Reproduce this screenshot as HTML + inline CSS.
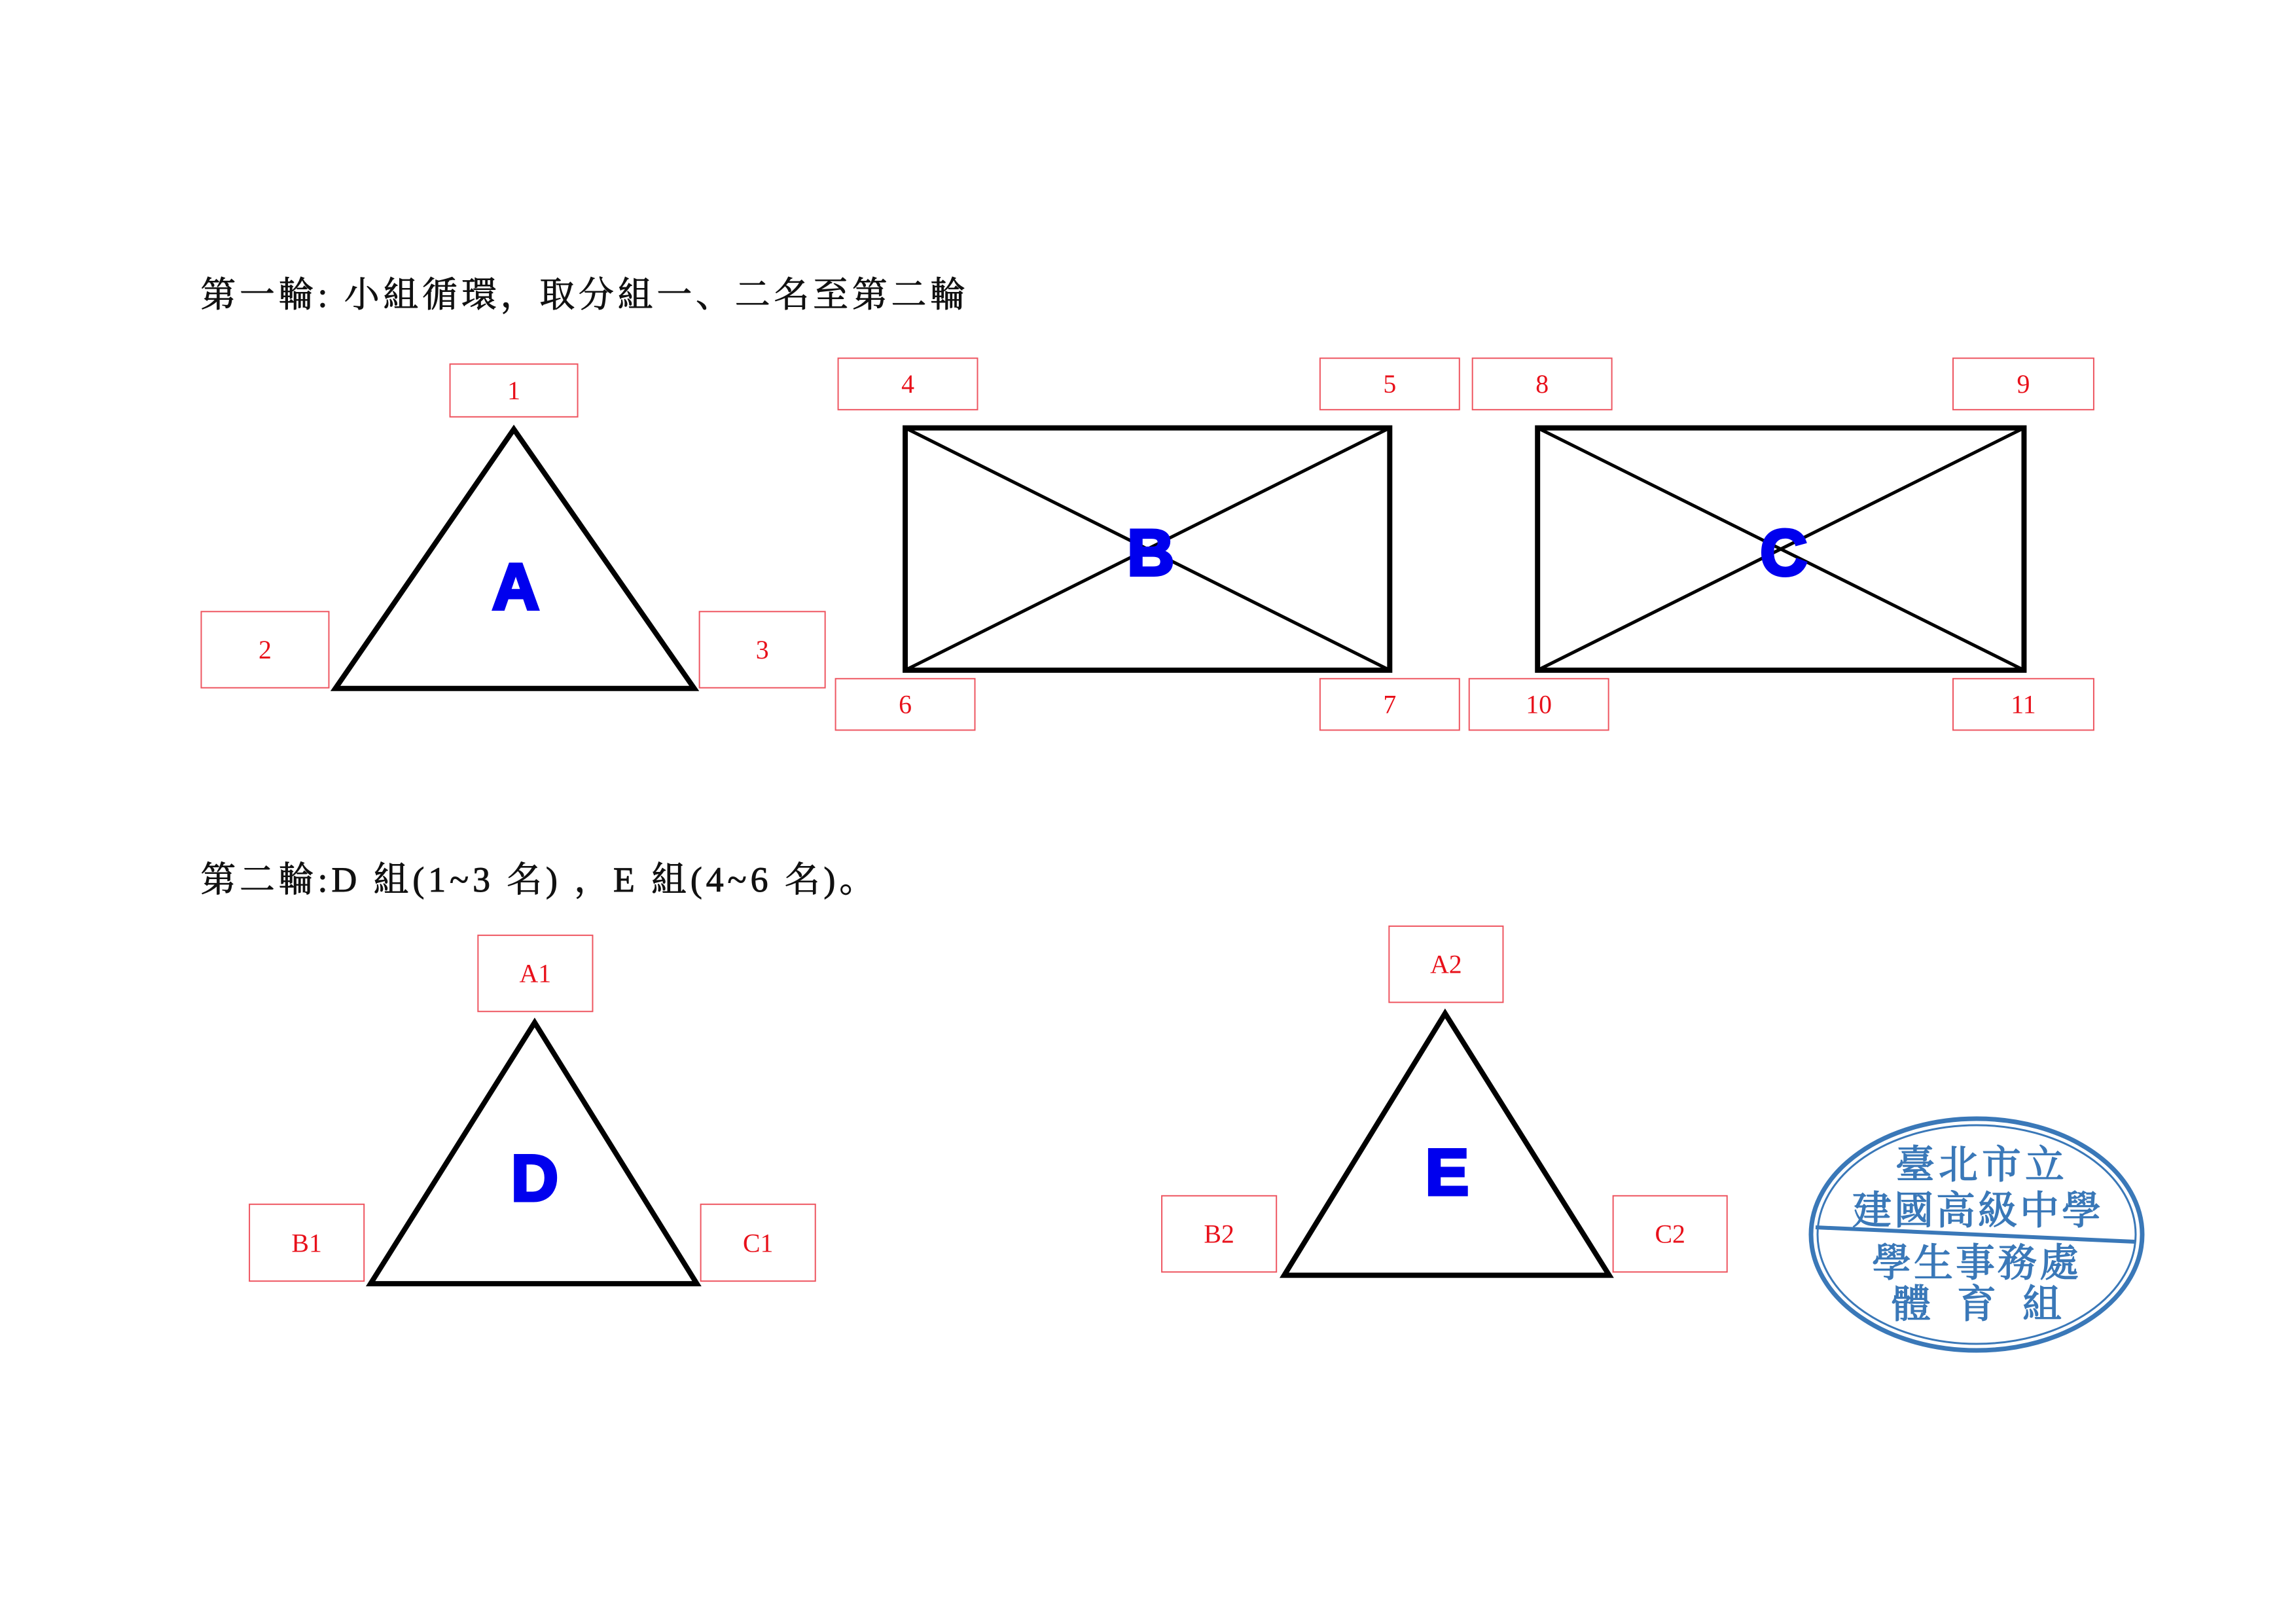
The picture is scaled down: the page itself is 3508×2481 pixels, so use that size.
<!DOCTYPE html>
<html><head><meta charset="utf-8">
<style>
body{margin:0;background:#fff;}
#c{position:relative;width:3508px;height:2481px;overflow:hidden;background:#fff;}
#s{position:absolute;left:0;top:0;width:3508px;height:2481px;transform:scale(0.995);transform-origin:0 0;}
.t{position:absolute;font-family:"Liberation Serif","Noto Serif CJK SC",serif;color:#111;white-space:nowrap;}
.b{position:absolute;border:2px solid #ee5560;box-sizing:border-box;color:#e8101a;font-family:"Liberation Serif",serif;font-size:40px;display:flex;align-items:center;justify-content:center;}
</style></head><body><div id="c">
<div id="s">
<div class="t" style="left:308px;top:410px;font-size:54px;letter-spacing:6px;-webkit-text-stroke:1px #111;">第一輪: 小組循環，取分組一、二名至第二輪</div>
<div class="t" style="left:308px;top:1308px;font-size:54px;letter-spacing:6px;-webkit-text-stroke:1px #111;">第二輪:D 組(1~3 名) ，E 組(4~6 名)。</div>

<svg width="3508" height="2481" style="position:absolute;left:0;top:0">
<g fill="none" stroke="#000" stroke-width="8">
<polygon points="789,659 515,1057 1066,1057"/>
<rect x="1390" y="657" width="744" height="372"/>
<line x1="1390" y1="657" x2="2134" y2="1029" stroke-width="5"/>
<line x1="2134" y1="657" x2="1390" y2="1029" stroke-width="5"/>
<rect x="2361" y="657" width="747" height="372"/>
<line x1="2361" y1="657" x2="3108" y2="1029" stroke-width="5"/>
<line x1="3108" y1="657" x2="2361" y2="1029" stroke-width="5"/>
<polygon points="821,1570 569,1971 1070,1971"/>
<polygon points="2219,1556 1972,1958 2471,1958"/>
</g>
<g font-family="Liberation Sans,sans-serif" font-weight="900" fill="#0000ee" text-anchor="middle" font-size="100" stroke="#0000ee" stroke-width="5">
<text x="792" y="935">A</text>
<text x="1767" y="883">B</text>
<text x="2739" y="883">C</text>
<text x="821" y="1843">D</text>
<text x="2222" y="1834">E</text>
</g>
</svg>

<div class="b" style="left:690px;top:558px;width:198px;height:83px;">1</div>
<div class="b" style="left:308px;top:938px;width:198px;height:119px;">2</div>
<div class="b" style="left:1073px;top:938px;width:195px;height:119px;">3</div>
<div class="b" style="left:1286px;top:549px;width:216px;height:81px;">4</div>
<div class="b" style="left:2026px;top:549px;width:216px;height:81px;">5</div>
<div class="b" style="left:2260px;top:549px;width:216px;height:81px;">8</div>
<div class="b" style="left:2998px;top:549px;width:218px;height:81px;">9</div>
<div class="b" style="left:1282px;top:1041px;width:216px;height:81px;">6</div>
<div class="b" style="left:2026px;top:1041px;width:216px;height:81px;">7</div>
<div class="b" style="left:2255px;top:1041px;width:216px;height:81px;">10</div>
<div class="b" style="left:2998px;top:1041px;width:218px;height:81px;">11</div>
<div class="b" style="left:733px;top:1435px;width:178px;height:119px;">A1</div>
<div class="b" style="left:382px;top:1848px;width:178px;height:120px;">B1</div>
<div class="b" style="left:1075px;top:1848px;width:178px;height:120px;">C1</div>
<div class="b" style="left:2132px;top:1421px;width:177px;height:119px;">A2</div>
<div class="b" style="left:1783px;top:1835px;width:178px;height:119px;">B2</div>
<div class="b" style="left:2476px;top:1835px;width:177px;height:119px;">C2</div>
</div>

<svg width="3508" height="2481" style="position:absolute;left:0;top:0">
<g stroke="#3a78b8" fill="none">
<ellipse cx="3020" cy="1886" rx="253" ry="177" stroke-width="7"/>
<ellipse cx="3020" cy="1886" rx="243" ry="167" stroke-width="3"/>
<line x1="2774" y1="1875" x2="3262" y2="1897" stroke-width="6"/>
</g>
<g fill="#3a78b8" stroke="#3a78b8" stroke-width="1.5" font-family="Noto Serif CJK SC,serif" font-size="60" text-anchor="middle">
<text x="3028" y="1800" letter-spacing="6">臺北市立</text>
<text x="3022" y="1870" letter-spacing="4">建國高級中學</text>
<text x="3020" y="1950" letter-spacing="4">學生事務處</text>
<text x="3040" y="2013" letter-spacing="40">體育組</text>
</g>
</svg>
</div></body></html>
